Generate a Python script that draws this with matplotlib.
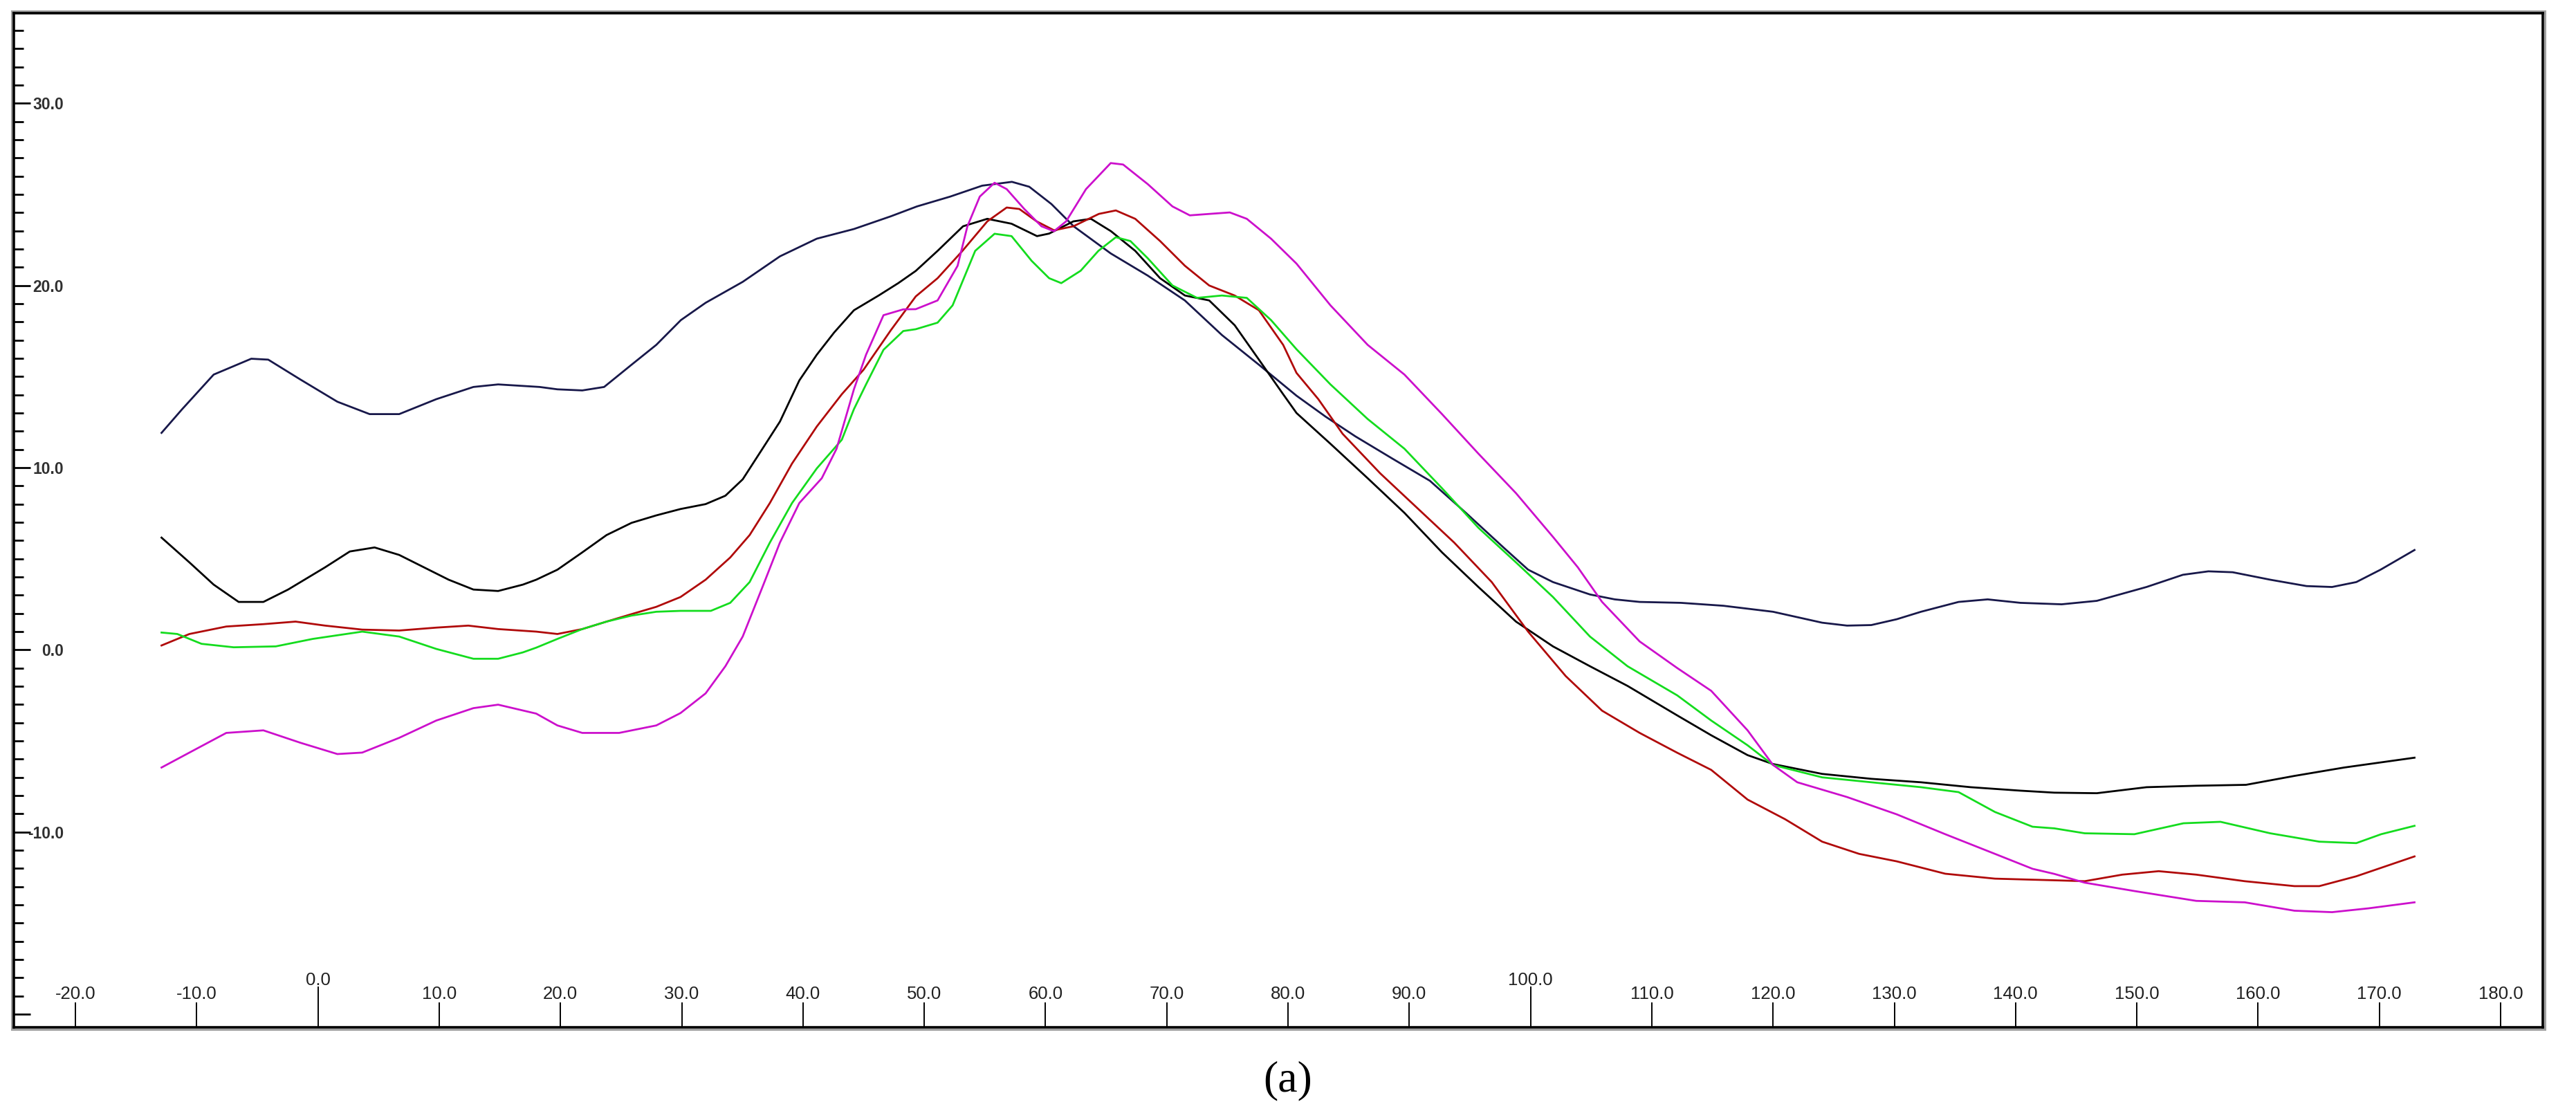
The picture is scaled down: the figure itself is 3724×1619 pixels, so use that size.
import matplotlib
matplotlib.use("Agg")
import matplotlib.pyplot as plt
from matplotlib.patches import Rectangle

# ── data ──
navy_x = [-12.9, -11.2, -8.6, -5.5, -4.1, -1.45, 1.6, 4.26, 6.7, 9.76, 12.82, 14.86, 18.28,
          19.75, 21.8, 23.6, 25.86, 27.9, 29.93, 31.97, 35.03, 38.1, 41.14, 44.2, 47.25,
          49.4, 52.14, 54.78, 57.23, 58.66, 60.49, 62.32, 65.38, 68.44, 71.49, 74.55, 77.6,
          80.7, 83.1, 85.55, 88.6, 91.7, 94.7, 97.8, 99.8, 101.85, 104.9, 106.95, 109, 112.4,
          115.9, 120, 124.05, 126.1, 128.1, 130.2, 132.2, 135.3, 137.7, 140.4, 143.8,
          146.7, 150.8, 153.8, 155.9, 157.9, 161, 164, 166.1, 168.1, 170.1, 172.9]
navy_y = [11.91, 13.21, 15.11, 15.98, 15.93, 14.84, 13.62, 12.94, 12.94, 13.76, 14.43, 14.57, 14.43,
          14.3, 14.24, 14.43, 15.65, 16.74, 18.1, 19.05, 20.2, 21.6, 22.57, 23.1, 23.8,
          24.34, 24.88, 25.48, 25.69, 25.42, 24.47, 23.25, 21.76, 20.54, 19.18, 17.28, 15.65,
          13.95, 12.8, 11.72, 10.5, 9.28, 7.5, 5.6, 4.4, 3.72, 3.04, 2.77, 2.63, 2.58,
          2.42, 2.09, 1.49, 1.33, 1.36, 1.68, 2.09, 2.63, 2.77, 2.58, 2.5,
          2.69, 3.45, 4.12, 4.31, 4.26, 3.85, 3.5, 3.45, 3.72, 4.4, 5.48]

black_x = [-12.9, -10.6, -8.6, -6.54, -4.5, -2.46, 0.59, 2.63, 4.67, 6.7, 8.74, 10.78, 12.82, 14.86, 16.9,
           18.0, 19.75, 21.8, 23.8, 25.86, 27.9, 29.9, 31.97, 33.6, 35.03, 36.66, 38.1, 39.7, 41.14,
           42.57, 44.2, 46.24, 47.86,
           49.3, 51.1, 53.2, 55.2, 57.2, 59.3, 60.3, 62.3, 63.75, 65.4, 67.4, 69.45, 71.5, 73.5,
           75.6, 77.6, 79.6,
           80.7, 83.5, 86.57, 89.6, 92.7, 95.7, 98.8, 101.85, 104.9, 108, 112.1,
           114.9, 117.9, 120, 124.05, 128.1, 132.2, 136.3, 140.4, 143.2,
           146.7, 150.8, 154.9, 159, 163, 167.1, 172.9]
black_y = [6.16, 4.8, 3.58, 2.63, 2.63, 3.31, 4.53, 5.4, 5.62, 5.21, 4.53, 3.85, 3.31, 3.23, 3.58,
           3.85, 4.4, 5.35, 6.3, 6.97, 7.38, 7.73, 8.0, 8.46, 9.36, 11.04, 12.53, 14.79, 16.2,
           17.42, 18.64, 19.45, 20.13,
           20.8, 21.9, 23.25, 23.66, 23.39, 22.71, 22.85, 23.52, 23.66, 22.98, 21.9, 20.4, 19.45, 19.18,
           17.82, 15.93, 14.03,
           13.0, 11.31, 9.42, 7.52, 5.35, 3.45, 1.55, 0.19, -0.9, -1.98, -3.6,
           -4.69, -5.78, -6.27, -6.81, -7.08, -7.27, -7.54, -7.73, -7.84,
           -7.87, -7.54, -7.46, -7.41, -6.92, -6.46, -5.92]

red_x = [-12.9, -10.6, -7.56, -4.5, -1.85, 0.59, 3.65, 6.7, 9.76, 12.4, 14.86, 18.0,
         19.75, 21.8, 23.8, 25.86, 27.9, 29.9, 31.97, 34.0, 35.6, 37.27, 39.1, 41.14, 43.2, 45.0, 47.25,
         49.3, 51.1, 53.15, 55.2, 56.8, 57.84, 59.27, 60.7, 62.3, 64.4, 65.8, 67.4, 69.45, 71.5, 73.5,
         75.6, 77.6, 79.6,
         80.7, 82.5, 84.5, 87.6, 90.65, 93.7, 96.8, 99.8, 102.9, 105.9, 109, 112.1,
         114.9, 117.9, 121, 124.05, 127.1, 130.2, 134.2, 138.3, 143.2,
         145.7, 148.8, 151.8, 154.9, 158.9, 163, 165.05, 168.1, 172.9]
red_y = [0.24, 0.87, 1.28, 1.41, 1.55, 1.33, 1.11, 1.06, 1.22, 1.33, 1.14, 1.0,
         0.87, 1.14, 1.55, 1.96, 2.36, 2.9, 3.85, 5.07, 6.3, 8.06, 10.23, 12.26, 14.03, 15.38, 17.55,
         19.4, 20.4, 21.9, 23.52, 24.28, 24.2, 23.52, 23.03, 23.25, 23.93, 24.12, 23.66, 22.44, 21.08, 20.0,
         19.45, 18.64, 16.74,
         15.2, 13.76, 11.86, 9.69, 7.79, 5.89, 3.72, 1.0, -1.44, -3.34, -4.56, -5.65,
         -6.59, -8.22, -9.3, -10.53, -11.2, -11.61, -12.29, -12.56, -12.65,
         -12.7, -12.34, -12.15, -12.34, -12.7, -12.97, -12.97, -12.43, -11.34]

green_x = [-12.9, -11.6, -9.6, -6.95, -3.48, -0.43, 3.65, 6.7, 9.76, 12.82, 14.86, 16.9, 18.0,
           19.75, 21.8, 23.8, 25.86, 27.9, 29.9, 32.4, 34.0, 35.6, 37.27, 39.1, 41.14, 43.2, 44.2,
           45.2, 46.64, 48.27,
           49.3, 51.1, 52.34, 54.2, 55.8, 57.2, 58.86, 60.3, 61.3, 62.9, 64.36, 65.8, 67.0, 68.44,
           70.47, 72.5, 74.55, 76.6, 78.6,
           80.7, 83.5, 86.57, 89.6, 92.7, 95.7, 98.8, 101.85, 104.9, 108, 112.1,
           114.9, 117.9, 120, 124.05, 128.1, 132.2, 135.3, 138.3, 141.4, 143.2,
           145.7, 149.8, 153.85, 156.9, 161, 165.05, 168.1, 170.15, 172.9]
green_y = [0.95, 0.87, 0.33, 0.14, 0.19, 0.6, 1.0, 0.73, 0.05, -0.49, -0.49, -0.14, 0.12,
           0.6, 1.14, 1.55, 1.88, 2.09, 2.14, 2.14, 2.58, 3.72, 5.89, 8.06, 9.96, 11.53, 13.21,
           14.57, 16.47, 17.5,
           17.6, 17.96, 18.91, 21.9, 22.84, 22.71, 21.35, 20.4, 20.13, 20.81, 21.9, 22.65, 22.44, 21.49,
           20.0, 19.32, 19.45, 19.32, 18.1,
           16.5, 14.57, 12.67, 11.04, 8.87, 6.7, 4.8, 2.9, 0.73, -0.9, -2.5,
           -3.88, -5.24, -6.32, -7.0, -7.27, -7.54, -7.81, -8.9, -9.71, -9.8,
           -10.07, -10.12, -9.52, -9.44, -10.07, -10.53, -10.61, -10.12, -9.66]

magenta_x = [-12.9, -10.6, -7.56, -4.5, -1.45, 1.6, 3.65, 6.7, 9.76, 12.82, 14.86, 18.0,
             19.75, 21.8, 24.84, 27.9, 29.9, 31.97, 33.6, 35.03, 36.66, 38.1, 39.7, 41.55, 42.77,
             44.2, 45.2, 46.64, 48.27,
             49.3, 51.1, 52.75, 53.56, 54.58, 55.8, 56.8, 58.25, 59.67, 60.7, 61.7, 63.34, 65.38,
             66.4, 68.44, 70.47, 71.9, 73.53, 75.2, 76.6, 78.6,
             80.7, 83.5, 86.57, 89.6, 92.7, 95.7, 98.8, 101.9, 103.9, 105.9, 109, 112.1,
             114.9, 117.9, 120, 122, 126.1, 130.2, 134.2, 138.3, 141.4, 143.2,
             145.7, 149.8, 154.9, 158.9, 163, 166.1, 169.1, 172.9]
magenta_y = [-6.46, -5.64, -4.56, -4.42, -5.1, -5.72, -5.64, -4.83, -3.88, -3.2, -3.01, -3.5,
             -4.15, -4.56, -4.56, -4.15, -3.47, -2.39, -0.9, 0.73, 3.45, 5.89, 8.06, 9.42, 11.04,
             14.3, 16.2, 18.37, 18.69,
             18.7, 19.18, 21.08, 23.25, 24.88, 25.64, 25.29, 24.2, 23.25, 22.98, 23.52, 25.29, 26.72,
             26.64, 25.56, 24.34, 23.85, 23.93, 24.01, 23.66, 22.57,
             21.2, 18.91, 16.74, 15.11, 12.94, 10.77, 8.6, 6.16, 4.53, 2.63, 0.46, -1.0,
             -2.25, -4.42, -6.32, -7.27, -8.08, -9.03, -10.12, -11.2, -12.02, -12.3,
             -12.78, -13.24, -13.78, -13.86, -14.32, -14.4, -14.19, -13.86]

x_major = [-20, -10, 10, 20, 30, 40, 50, 60, 70, 80, 90, 110, 120, 130, 140, 150, 160, 170, 180]
x_raised = [0, 100]
y_major = [-20, -10, 0, 10, 20, 30]
y_minor = [v for v in range(-20, 35) if v % 10 != 0]

W, H = 3724, 1619
fig = plt.figure(figsize=(W / 100, H / 100), dpi=100)
ax_l, ax_r, ax_t, ax_b = 20, 3676, 19, 1485
ax = fig.add_axes([ax_l / W, 1 - ax_b / H, (ax_r - ax_l) / W, (ax_b - ax_t) / H])

lw = 2.0
ax.plot(navy_x, navy_y, color="#18184a", lw=lw)
ax.plot(black_x, black_y, color="#000000", lw=lw)
ax.plot(red_x, red_y, color="#b00a0a", lw=lw)
ax.plot(green_x, green_y, color="#14dc1e", lw=lw)
ax.plot(magenta_x, magenta_y, color="#cc10cc", lw=lw)

ax.set_xlim(-25.08, 183.48)
ax.set_ylim(-20.72, 34.95)

tick_family = ["Liberation Sans", "DejaVu Sans"]

ax.set_xticks(x_major, labels=[f"{v:.1f}" for v in x_major])
ax.set_xticks(x_raised, labels=[f"{v:.1f}" for v in x_raised], minor=True)
ax.tick_params(axis="x", which="major", direction="in", length=25.9, width=1.4, pad=-43)
ax.tick_params(axis="x", which="minor", direction="in", length=42.5, width=1.4, pad=-57.6)

ax.set_yticks(y_major, labels=["" if v == -20 else f"{v:.1f}" for v in y_major])
ax.set_yticks(y_minor, minor=True)
ax.tick_params(axis="y", which="major", direction="in", length=17, width=2.0, pad=-52)
ax.tick_params(axis="y", which="minor", direction="in", length=10, width=2.0)

for lab in ax.get_xticklabels(which="both"):
    lab.set_fontfamily(tick_family)
    lab.set_fontsize(18.5)
    lab.set_color("#202020")
for lab in ax.get_yticklabels():
    lab.set_fontfamily(tick_family)
    lab.set_fontsize(16.5)
    lab.set_fontweight("bold")
    lab.set_color("#303030")

for sp in ax.spines.values():
    sp.set_linewidth(2.6)
    sp.set_color("black")

# grey outer edge of the frame
o = 3
fig.patches.append(Rectangle(((ax_l - o) / W, 1 - (ax_b + o) / H),
                             (ax_r - ax_l + 2 * o) / W, (ax_b - ax_t + 2 * o) / H,
                             transform=fig.transFigure, fill=False,
                             edgecolor="#a0a0a0", lw=2.2, zorder=-1))

fig.text(0.5, 1 - 1562 / H, "(a)", family=["Liberation Serif", "DejaVu Serif"],
         size=46, ha="center", va="center")

fig.savefig("out.png", dpi=100, facecolor="white")
